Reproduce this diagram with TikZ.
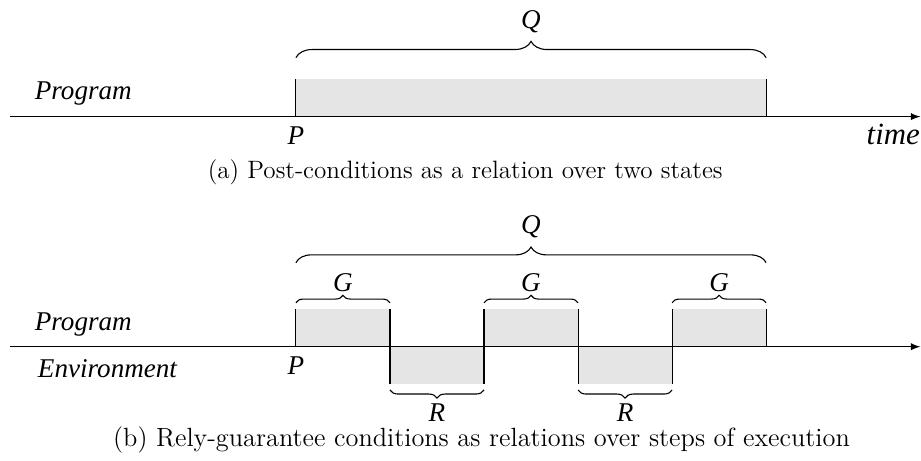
\documentclass[tikz,border=0pt]{standalone}
\usepackage{fontspec}
\newfontfamily\lblfont{Liberation Serif}
\usetikzlibrary{arrows.meta,decorations.pathreplacing}
\tikzset{
  lbl/.style={font=\lblfont\itshape\fontsize{12.3}{14}\selectfont},
  slot/.style={fill=gray!20},
  brc/.style={decorate,decoration={brace,amplitude=#1}},
  capt/.style={font=\fontsize{11.4}{13.5}\selectfont}
}
\begin{document}
\begin{tikzpicture}[>=latex,line width=0.5pt]
\useasboundingbox (-4.72,-1.82) rectangle (9.97,5.53);
% (a) one relation over the whole run
\begin{scope}[yshift=3.67cm]
\fill[slot](0,0)rectangle(7.5,0.6);
\draw(0,0.6)--(0,0) (7.5,0)--(7.5,0.6);
\coordinate (ta) at (-4.56,0);
\coordinate (tb) at (9.96,0);
\draw[->](ta)--(tb);
\node[lbl,anchor=base west] (progA) at (-4.29,0.27) {Program};
\node[lbl,anchor=base] (pA) at (0,-0.45) {P};
\node[lbl,font=\lblfont\itshape\fontsize{14}{16}\selectfont,anchor=base east,inner sep=0pt] (time) at (9.96,-0.45) {time};
\draw[brc=0.26cm](0,0.94)--(7.5,0.94);
\node[lbl] (qA) at (3.75,1.52) {Q};
\node[capt] (captA) at (2.7,-0.88) {(a) Post-conditions as a relation over two states};
\end{scope}
% (b) steps of program and environment
\coordinate (ba) at (-4.56,0);
\coordinate (bb) at (9.96,0);
\foreach \x in {0,3,6}{
  \fill[slot](\x,0)rectangle(\x+1.5,0.6);
  \draw(\x,0)--(\x,0.6) (\x+1.5,0)--(\x+1.5,0.6);
  \draw[brc=0.12cm](\x,0.7)--(\x+1.5,0.7);
  \node[lbl] (g\x) at (\x+0.75,1.02) {G};
}
\foreach \x in {1.5,4.5}{
  \fill[slot](\x,0)rectangle(\x+1.5,-0.6);
  \draw(\x,0)--(\x,-0.6) (\x+1.5,0)--(\x+1.5,-0.6);
  \draw[brc=0.13cm](\x+1.5,-0.69)--(\x,-0.69);
  \node[lbl] (r\x) at (\x+0.75,-1.05) {R};
}
\draw[->](ba)--(bb);
\node[lbl,anchor=base west] (progB) at (-4.29,0.26) {Program};
\node[lbl,anchor=base west] (env) at (-4.24,-0.49) {Environment};
\node[lbl,anchor=base] (pB) at (0,-0.45) {P};
\draw[brc=0.25cm](0,1.34)--(7.5,1.34);
\node[lbl] (qB) at (3.75,1.91) {Q};
\node[capt,font=\fontsize{11.95}{14}\selectfont] (captB) at (2.96,-1.48) {(b) Rely-guarantee conditions as relations over steps of execution};
\end{tikzpicture}
\end{document}
